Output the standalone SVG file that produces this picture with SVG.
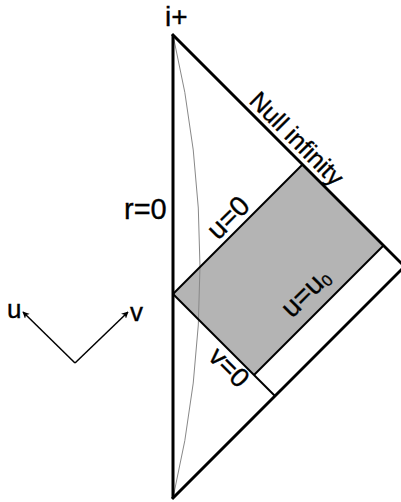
<svg xmlns="http://www.w3.org/2000/svg" width="401" height="502" viewBox="0 0 401 502">
<style>
.outer{stroke:#000;stroke-width:3;fill:none;stroke-linecap:butt}
.inner{stroke:#000;stroke-width:2;fill:none}
.curve{stroke:#888;stroke-width:1;fill:none}
.axis{stroke:#000;stroke-width:1.5;fill:none}
text{font-family:"Liberation Sans",Arial,sans-serif;fill:#000;stroke:#000;stroke-width:0.35}
</style>
<defs>
<marker id="ah" viewBox="0 0 10 10" refX="9" refY="5" markerWidth="7" markerHeight="7" orient="auto" markerUnits="userSpaceOnUse">
<path d="M0,0 L10,5 L0,10 L3,5 z" fill="#000"/>
</marker>
</defs>
<rect width="401" height="502" fill="#fff"/>
<g id="region">
<polygon points="173,294 302.5,164.5 383.5,245.5 254,375" fill="#b4b4b4"/>
</g>
<g id="connectors">
<path class="curve" d="M173,35 A1006,1006 0 0 1 173,498"/>
<line class="inner" x1="173" y1="294" x2="302.5" y2="164.5"/>
<line class="inner" x1="173" y1="294" x2="275" y2="396"/>
<line class="inner" x1="254" y1="375" x2="383.5" y2="245.5"/>
<line class="outer" x1="173" y1="35" x2="173" y2="498"/>
<line class="outer" x1="172" y1="34" x2="420" y2="282"/>
<line class="outer" x1="172" y1="499" x2="420" y2="251"/>
<line class="axis" x1="75" y1="363" x2="23" y2="312" marker-end="url(#ah)"/>
<line class="axis" x1="75" y1="363" x2="128" y2="312" marker-end="url(#ah)"/>
</g>
<g id="labels">
<text x="165" y="26" font-size="28">i+</text>
<text x="124" y="219" font-size="29">r=0</text>
<text font-size="25" transform="translate(248,102) rotate(45)">Null infinity</text>
<text font-size="28" transform="translate(218,241) rotate(-45)">u=0</text>
<text font-size="28" transform="translate(292,319) rotate(-45)">u=u<tspan font-size="16" dy="3">0</tspan></text>
<text font-size="27" transform="translate(207,358) rotate(45)">v=0</text>
<text x="7" y="318" font-size="26">u</text>
<text x="130" y="321" font-size="26">v</text>
</g>
</svg>
